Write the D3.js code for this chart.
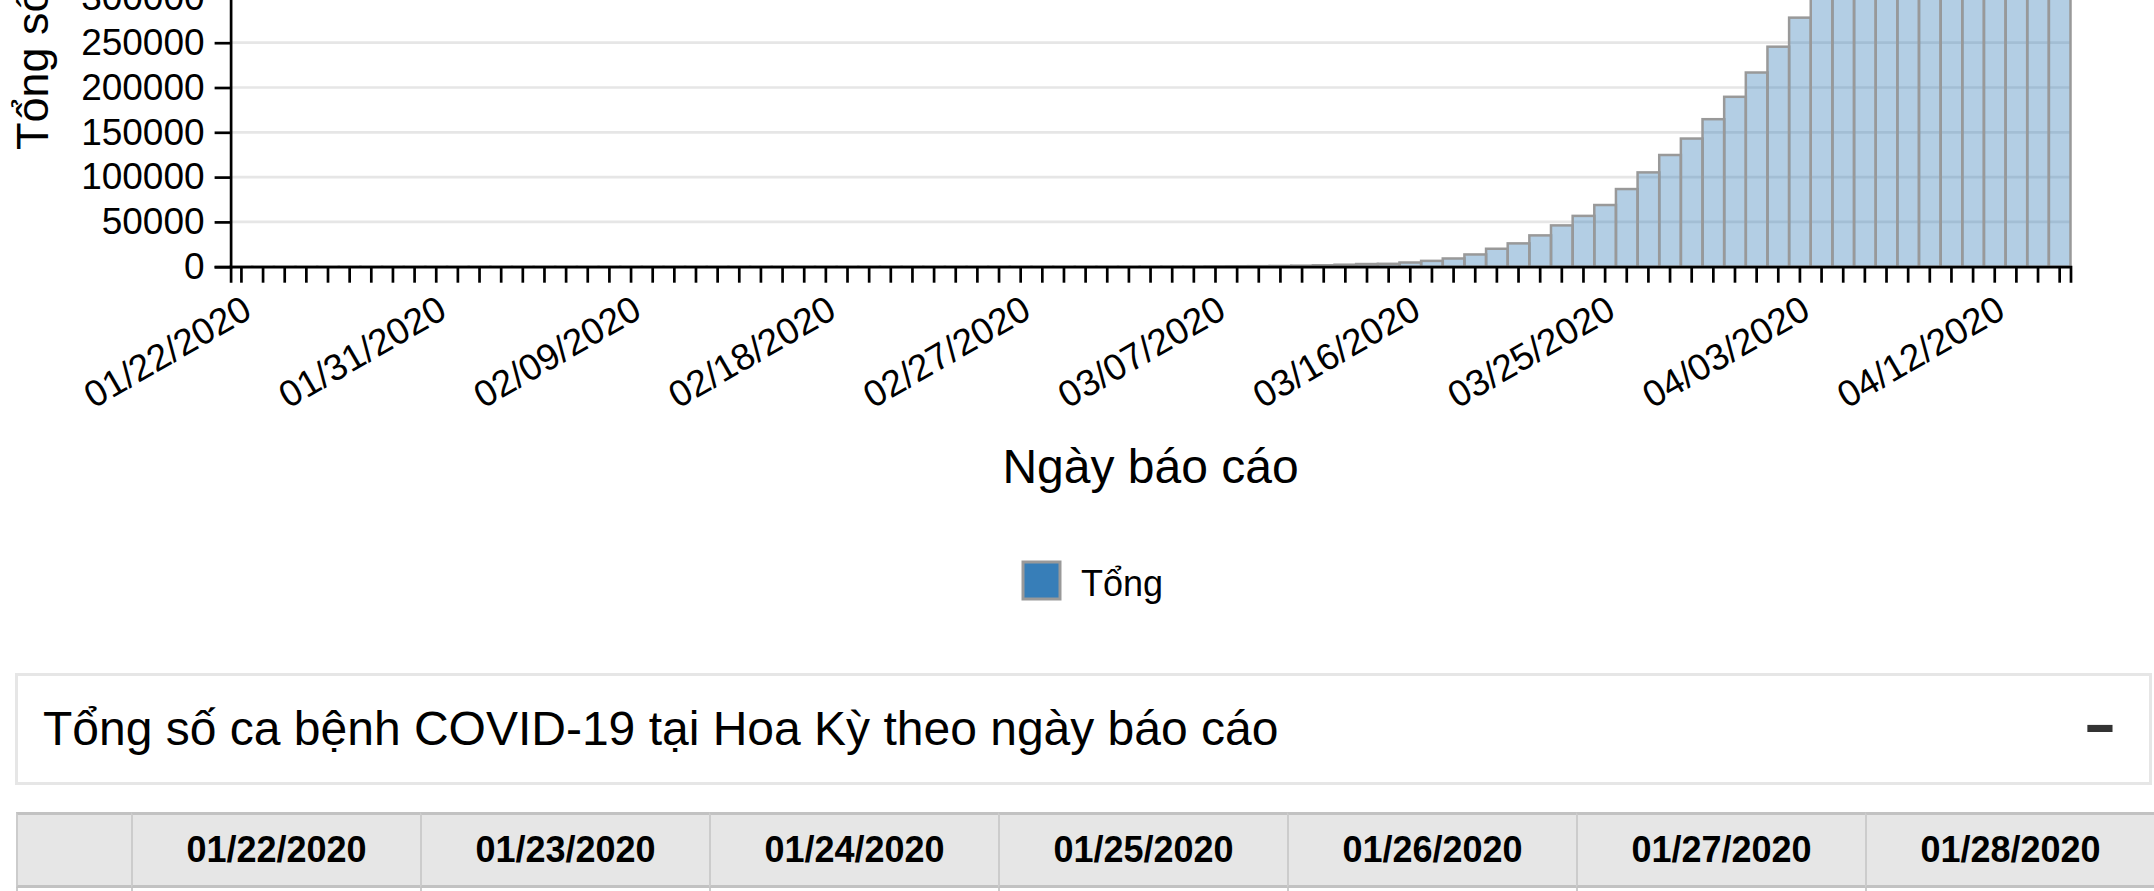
<!DOCTYPE html>
<html lang="vi">
<head>
<meta charset="UTF-8">
<title>Tổng số ca bệnh COVID-19 tại Hoa Kỳ</title>
<script src="https://d3js.org/d3.v7.min.js"></script>
<style>
  body { margin: 0; width: 2154px; height: 891px; overflow: hidden; background: #fff;
         font-family: "Liberation Sans", Arial, Helvetica, sans-serif; position: relative; }
  #chart { position: absolute; left: 0; top: 0; }
  .bar { fill: #377eb8; fill-opacity: 0.38; stroke: #999; stroke-width: 2.5; }
  .grid line { stroke: #e6e6e6; stroke-width: 2.7; }
  .axis path, .axis line { stroke: #000; stroke-width: 2.7; }
  .axis text { font-size: 37px; font-family: "Liberation Sans", Arial, sans-serif; fill: #000; }
  .panel { position: absolute; left: 15px; top: 673px; width: 2137px; height: 112px;
           box-sizing: border-box; border: 3px solid #e6e6e6; }
  .panel .ttl { position: absolute; left: 25px; top: 29px; font-size: 48px; line-height: 48px; white-space: nowrap; }
  .panel .tog { position: absolute; left: 2072px; top: 18px; font-size: 60px; line-height: 60px;
                font-weight: bold; color: #333; transform: scaleX(1.65); transform-origin: 10px 0; }
  .tbl { position: absolute; left: 16px; top: 812px; border-collapse: separate; border-spacing: 0;
         table-layout: fixed; width: 2138px; }
  .tbl th { height: 70px; padding: 0; background: #e6e6e6; border-top: 3px solid #c2c2c2;
            border-bottom: 3px solid #c2c2c2; border-left: 2px solid #cccccc;
            font-size: 36px; font-weight: bold; text-align: center; white-space: nowrap; }
  .tbl td { height: 60px; padding: 0; border-left: 2px solid #cccccc; font-size: 34px; text-align: center; }
</style>
</head>
<body>
<svg id="chart" width="2154" height="660"></svg>
<div class="panel"><span class="ttl"></span><span class="tog">-</span></div>
<table class="tbl"><colgroup></colgroup><thead><tr></tr></thead><tbody><tr></tr></tbody></table>

<script>
  // ngày báo cáo (01/22/2020 -> 04/15/2020)
  const dates = d3.timeDay.range(new Date(2020, 0, 22), new Date(2020, 3, 16)).map(d3.timeFormat("%m/%d/%Y"));

  // tổng số ca cộng dồn
  const totals = [
    1, 1, 2, 2, 5, 5, 5, 5, 5, 7,
    8, 8, 11, 11, 11, 12, 12, 12, 12, 12,
    13, 13, 14, 14, 14, 14, 14, 14, 14, 14,
    16, 16, 16, 16, 16, 16, 17, 17, 25, 32,
    55, 74, 107, 184, 237, 403, 519, 594, 782, 1147,
    1586, 2219, 2978, 3212, 4679, 6512, 9169, 13663, 20030, 26025,
    34944, 46096, 56714, 68841, 86662, 105253, 124665, 143025, 164620, 189618,
    216722, 245540, 277965, 312237, 337635, 368196, 398809, 432132, 466299, 501615,
    530006, 557571, 582619, 609516, 639664
  ];

  const tickLabels = ["01/22/2020", "01/31/2020", "02/09/2020", "02/18/2020", "02/27/2020",
                      "03/07/2020", "03/16/2020", "03/25/2020", "04/03/2020", "04/12/2020"];
  // only the lower ticks are in view, the rest of the plot is scrolled away
  const yTicks = [0, 50000, 100000, 150000, 200000, 250000, 300000];

  const seriesName = "Tổng";
  const xTitle = "Ngày báo cáo";
  const yTitle = "Tổng số ca bệnh";
  const tableTitle = "Tổng số ca bệnh COVID-19 tại Hoa Kỳ theo ngày báo cáo";
  const seriesColor = "#377eb8";

  const data = dates.map((d, i) => ({ date: d, value: totals[i] }));

  const y0 = 266.7;
  const pxPer50k = 44.8;
  const x = d3.scaleBand().domain(dates).range([230.6, 2070.5]).padding(0);
  const y = d3.scaleLinear().domain([0, 650000]).range([y0, y0 - 650000 * pxPer50k / 50000]);

  const svg = d3.select("#chart");

  // grid
  svg.append("g").attr("class", "grid")
    .selectAll("line")
    .data(yTicks.filter(t => t > 0))
    .enter().append("line")
    .attr("x1", x.range()[0]).attr("x2", x.range()[1])
    .attr("y1", d => y(d)).attr("y2", d => y(d));

  // bars
  svg.append("g")
    .selectAll(".bar")
    .data(data)
    .enter().append("rect")
    .attr("class", "bar")
    .attr("x", d => x(d.date))
    .attr("y", d => y(d.value))
    .attr("width", x.bandwidth())
    .attr("height", d => y(0) - y(d.value));

  // x axis
  const xAxis = svg.append("g")
    .attr("class", "axis")
    .attr("transform", "translate(0," + y0 + ")")
    .call(d3.axisBottom(x).tickSize(16).tickPadding(7)
      .tickFormat(d => tickLabels.includes(d) ? d : ""));
  xAxis.selectAll("text").filter(d => !tickLabels.includes(d)).remove();
  xAxis.selectAll("text")
    .attr("text-anchor", "end")
    .attr("dx", "-14")
    .attr("transform", "rotate(-30)");
  xAxis.attr("font-size", null).attr("font-family", null);

  // y axis
  const yAxis = svg.append("g")
    .attr("class", "axis")
    .attr("transform", "translate(" + x.range()[0] + ",0)")
    .call(d3.axisLeft(y).tickValues(yTicks).tickSize(16).tickPadding(10).tickFormat(d3.format("d")));
  yAxis.attr("font-size", null).attr("font-family", null);

  // axis titles
  svg.append("text")
    .attr("x", (x.range()[0] + x.range()[1]) / 2)
    .attr("y", 482.7)
    .attr("text-anchor", "middle")
    .attr("font-size", 48)
    .text(xTitle);

  svg.append("text")
    .attr("transform", "translate(48,150) rotate(-90)")
    .attr("text-anchor", "start")
    .attr("font-size", 45)
    .text(yTitle);

  // legend
  const legend = svg.append("g").attr("transform", "translate(1023,562)");
  legend.append("rect")
    .attr("width", 37).attr("height", 37)
    .attr("fill", seriesColor)
    .attr("stroke", "#999").attr("stroke-width", 3);
  legend.append("text")
    .attr("x", 58).attr("y", 34)
    .attr("font-size", 36)
    .text(seriesName);

  // bảng bên dưới
  d3.select(".panel .ttl").text(tableTitle);

  const shown = data.slice(0, 7);
  const colW = [115].concat(shown.map(() => 289));
  d3.select(".tbl colgroup").selectAll("col").data(colW).enter().append("col")
    .style("width", d => d + "px");
  d3.select(".tbl thead tr").selectAll("th").data([""].concat(shown.map(d => d.date)))
    .enter().append("th").text(d => d);
  d3.select(".tbl tbody tr").selectAll("td").data([seriesName].concat(shown.map(d => d.value)))
    .enter().append("td").text(d => d);
</script>
</body>
</html>
